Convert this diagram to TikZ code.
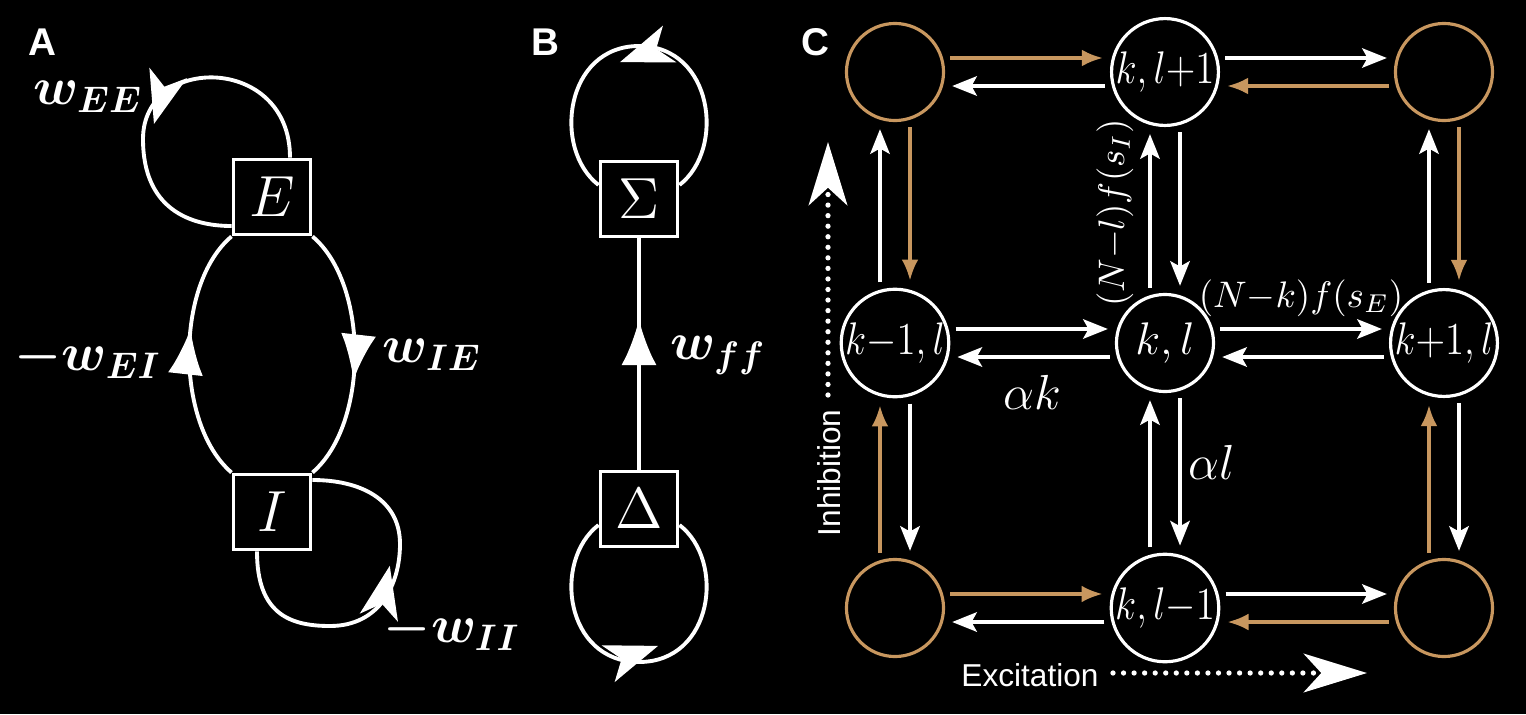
\RequirePackage{fix-cm}
\documentclass[tikz,border=0pt]{standalone}
\usepackage{fontspec}
\newfontfamily\panelfont{Liberation Sans}
\usetikzlibrary{
  arrows.meta,
  calc,
  decorations.markings
}
\definecolor{kinOrange}{HTML}{C8975F}

\begin{document}
\begin{tikzpicture}[
  x=0.01cm, y=0.01cm,
  panel/.style={text=white, font=\panelfont\bfseries\fontsize{11}{13}\selectfont},
  pop/.style={
    rectangle, draw=white, line width=1.1pt, text=white,
    minimum width=0.77cm, minimum height=0.75cm, inner sep=0pt,
    font=\fontsize{16.5}{18}\selectfont
  },
  state/.style={
    circle, draw=white, line width=0.9pt, text=white,
    minimum size=0.97cm, inner sep=0pt,
    font=\fontsize{13}{15}\selectfont
  },
  ghost/.style={state, draw=kinOrange},
  weight/.style={text=white, font=\fontsize{15}{17}\selectfont\boldmath},
  rate/.style={text=white, font=\fontsize{10.5}{12}\selectfont},
  decay/.style={text=white, font=\fontsize{14}{16}\selectfont},
  axislabel/.style={text=white, font=\panelfont\fontsize{9}{11}\selectfont},
  wire/.style={draw=white, line width=1.1pt},
  midarrow/.style={postaction=decorate, decoration={markings,
    mark=at position #1 with {\arrow{Latex[length=13pt,width=10pt]}}}},
  loopmark/.style 2 args={postaction=decorate, decoration={markings,
    mark=at position #1 with {\begin{scope}[yshift=#2]
      \arrow{Stealth[length=15pt,width=11pt,inset=4pt]}\end{scope}}}},
  warr/.style={draw=white, line width=1.15pt, shorten <=1.5pt, shorten >=2pt,
    -{Stealth[length=7pt,width=5.5pt,inset=1.5pt]}},
  oarr/.style={draw=kinOrange, line width=1pt, shorten <=1.5pt, shorten >=2pt,
    -{Latex[length=6pt,width=4.8pt]}},
  axis/.style={draw=white, line width=1.5pt, line cap=round,
    dash pattern=on 0pt off 3pt,
    -{Stealth[length=18pt,width=11pt,inset=5pt]}}
]
 \useasboundingbox[fill=black] (0,0) rectangle (1526,714);

 % Panel A -- E/I pair
 \node[panel] (lA) at (42,672) {A};
 \node[pop] (E) at (272,517) {$E$};
 \node[pop] (I) at (272,202) {$I$};

 \draw[wire, loopmark={0.57}{0.09cm}] ($(E.north)+(18,0)$) .. controls (290,660) and (143,660) .. (143,575)
   .. controls (143,505) and (190,488) .. ($(E.west)+(0,-29)$);
 \draw[wire, midarrow=0.6] (I.north west) .. controls (175,290) and (175,430) .. (E.south west);
 \draw[wire, midarrow=0.6] (E.south east) .. controls (369,430) and (369,290) .. (I.north east);
 \draw[wire, loopmark={0.6}{0.08cm}] ($(I.south)+(-15,0)$) .. controls (257,100) and (290,88) .. (330,88)
   .. controls (380,88) and (400,130) .. (400,170)
   .. controls (400,215) and (360,234) .. ($(I.east)+(0,32)$);

 \node[weight] (wEE) at (88,617) {$w_{EE}$};
 \node[weight] (wEI) at (88,356) {$-w_{EI}$};
 \node[weight] (wIE) at (432,359) {$w_{IE}$};
 \node[weight] (wII) at (452,84) {$-w_{II}$};

 % Panel B -- feed-forward pair
 \node[panel] (lB) at (545,672) {B};
 \node[pop] (S) at (639,515) {$\Sigma$};
 \node[pop] (D) at (639,205) {$\Delta$};

 \draw[wire, loopmark={0.565}{0.13cm}] ($(S.east)+(0,14)$) .. controls (726,565) and (713,668) .. (639,668)
   .. controls (565,668) and (552,565) .. ($(S.west)+(0,14)$);
 \draw[wire, loopmark={0.565}{0.13cm}] ($(D.west)+(0,-16)$) .. controls (552,153) and (565,52) .. (639,52)
   .. controls (713,52) and (726,153) .. ($(D.east)+(0,-16)$);
 \draw[wire, midarrow=0.65] (D) -- (S);

 \node[weight] (wff) at (718,359) {$w_{ff}$};

 % Panel C -- state lattice
 \node[panel] (lC) at (815,672) {C};
 \node[ghost] (o1) at (895,642) {};
 \node[state] (u)  at (1165,642) {\scalebox{0.85}[1]{$k,l{+}1$}};
 \node[ghost] (o2) at (1444,642) {};
 \node[state] (m)  at (895,371) {\scalebox{0.85}[1]{$k{-}1,l$}};
 \node[state] (c)  at (1165,371) {$k,l$};
 \node[state] (p)  at (1444,371) {\scalebox{0.85}[1]{$k{+}1,l$}};
 \node[ghost] (o3) at (895,106) {};
 \node[state] (d)  at (1165,106) {\scalebox{0.85}[1]{$k,l{-}1$}};
 \node[ghost] (o4) at (1444,106) {};

 % horizontal transitions
 \draw[oarr] ([yshift=0.14cm]o1.east) -- ([yshift=0.14cm]u.west);
 \draw[warr] ([yshift=-0.14cm]u.west) -- ([yshift=-0.14cm]o1.east);
 \draw[warr] ([yshift=0.14cm]u.east) -- ([yshift=0.14cm]o2.west);
 \draw[oarr] ([yshift=-0.14cm]o2.west) -- ([yshift=-0.14cm]u.east);

 \draw[warr] ([yshift=0.14cm]m.east) -- ([yshift=0.14cm]c.west);
 \draw[warr] ([yshift=-0.14cm]c.west) -- ([yshift=-0.14cm]m.east);
 \draw[warr] ([yshift=0.14cm]c.east) -- ([yshift=0.14cm]p.west);
 \draw[warr] ([yshift=-0.14cm]p.west) -- ([yshift=-0.14cm]c.east);

 \draw[oarr] ([yshift=0.14cm]o3.east) -- ([yshift=0.14cm]d.west);
 \draw[warr] ([yshift=-0.14cm]d.west) -- ([yshift=-0.14cm]o3.east);
 \draw[warr] ([yshift=0.14cm]d.east) -- ([yshift=0.14cm]o4.west);
 \draw[oarr] ([yshift=-0.14cm]o4.west) -- ([yshift=-0.14cm]d.east);

 % vertical transitions
 \draw[warr] ([xshift=-0.15cm]m.north) -- ([xshift=-0.15cm]o1.south);
 \draw[oarr] ([xshift=0.15cm]o1.south) -- ([xshift=0.15cm]m.north);
 \draw[warr] ([xshift=-0.15cm]c.north) -- ([xshift=-0.15cm]u.south);
 \draw[warr] ([xshift=0.15cm]u.south) -- ([xshift=0.15cm]c.north);
 \draw[warr] ([xshift=-0.15cm]p.north) -- ([xshift=-0.15cm]o2.south);
 \draw[oarr] ([xshift=0.15cm]o2.south) -- ([xshift=0.15cm]p.north);

 \draw[oarr] ([xshift=-0.15cm]o3.north) -- ([xshift=-0.15cm]m.south);
 \draw[warr] ([xshift=0.15cm]m.south) -- ([xshift=0.15cm]o3.north);
 \draw[warr] ([xshift=-0.15cm]d.north) -- ([xshift=-0.15cm]c.south);
 \draw[warr] ([xshift=0.15cm]c.south) -- ([xshift=0.15cm]d.north);
 \draw[oarr] ([xshift=-0.15cm]o4.north) -- ([xshift=-0.15cm]p.south);
 \draw[warr] ([xshift=0.15cm]p.south) -- ([xshift=0.15cm]o4.north);

 \node[rate, rotate=90] (rI) at (1115,501) {$(N{-}l)f(s_I)$};
 \node[rate] (rE) at (1301,416) {$(N{-}k)f(s_E)$};
 \node[decay] (ak) at (1032,322) {$\alpha k$};
 \node[decay] (al) at (1212,252) {$\alpha l$};

 % axes
 \coordinate (inh0) at (828,319);
 \coordinate (inh1) at (828,572);
 \draw[axis] (inh0) -- (inh1);
 \node[axislabel, rotate=90] (inh) at (829,241) {Inhibition};

 \coordinate (exc0) at (1113,41);
 \coordinate (exc1) at (1367,41);
 \draw[axis] (exc0) -- (exc1);
 \node[axislabel] (exc) at (1030,39) {Excitation};
\end{tikzpicture}
\end{document}
